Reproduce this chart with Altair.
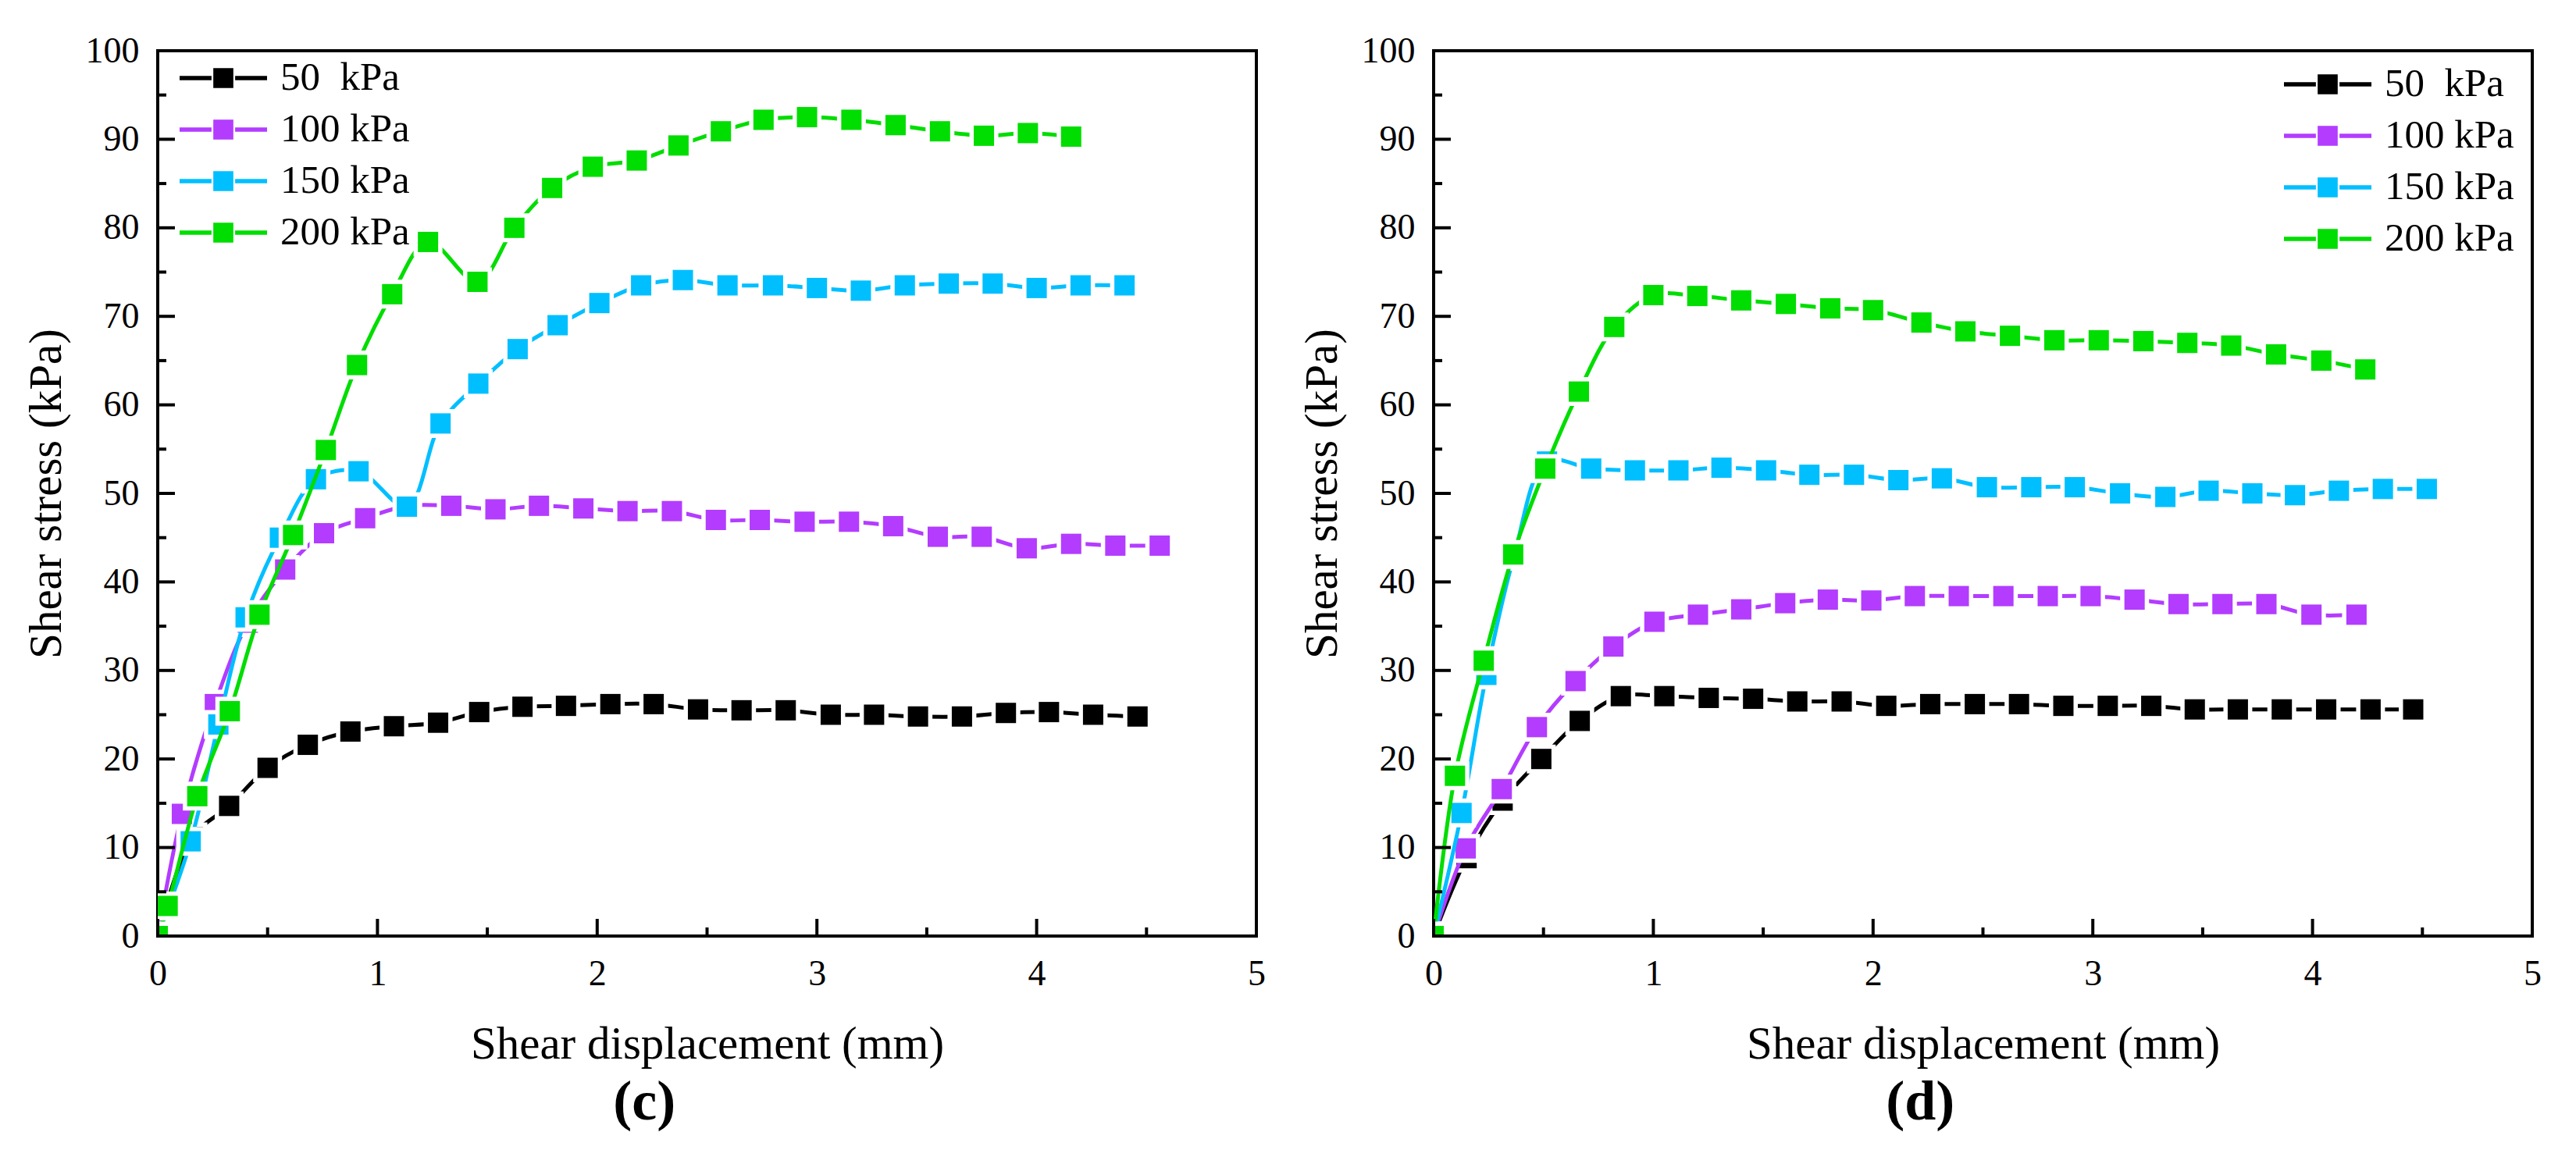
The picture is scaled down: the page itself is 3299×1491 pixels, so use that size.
import altair as alt
import pandas as pd

# ---------------- data ----------------
SERIES = ["\u00a050\u00a0\u00a0kPa", "100 kPa", "150 kPa", "200 kPa"]
COLORS = ["#000000", "#B33CFF", "#00BFFF", "#00DD00"]

# panel (c)
c50_x = [0, 0.16, 0.325, 0.50, 0.683, 0.877, 1.075, 1.276, 1.463, 1.66, 1.858, 2.06, 2.257, 2.459, 2.657, 2.858, 3.063, 3.26, 3.46, 3.66, 3.86, 4.056, 4.257, 4.459]
c50_y = [0, 11.2, 14.7, 19.0, 21.6, 23.1, 23.7, 24.1, 25.3, 25.9, 26.0, 26.2, 26.2, 25.6, 25.5, 25.5, 25.0, 25.0, 24.8, 24.8, 25.2, 25.3, 25.0, 24.8]
c100_x = [0, 0.11, 0.26, 0.41, 0.58, 0.757, 0.944, 1.138, 1.336, 1.537, 1.735, 1.937, 2.138, 2.34, 2.54, 2.74, 2.944, 3.146, 3.347, 3.55, 3.75, 3.955, 4.157, 4.358, 4.56]
c100_y = [0, 13.8, 26.2, 35.4, 41.4, 45.5, 47.2, 48.6, 48.6, 48.2, 48.6, 48.3, 48.0, 48.0, 47.0, 47.0, 46.8, 46.8, 46.3, 45.1, 45.1, 43.8, 44.3, 44.1, 44.1]
c150_x = [0, 0.15, 0.276, 0.40, 0.556, 0.72, 0.914, 1.134, 1.287, 1.459, 1.638, 1.82, 2.01, 2.2, 2.39, 2.593, 2.8, 3.0, 3.2, 3.4, 3.6, 3.8, 4.0, 4.2, 4.4]
c150_y = [0, 10.7, 23.9, 36.0, 45.0, 51.6, 52.5, 48.5, 57.9, 62.4, 66.3, 69.0, 71.5, 73.5, 74.1, 73.5, 73.5, 73.2, 72.9, 73.5, 73.7, 73.7, 73.2, 73.5, 73.5]
c200_x = [0, 0.045, 0.18, 0.328, 0.463, 0.616, 0.765, 0.907, 1.067, 1.23, 1.455, 1.623, 1.795, 1.98, 2.18, 2.37, 2.563, 2.757, 2.955, 3.157, 3.358, 3.56, 3.76, 3.96, 4.157]
c200_y = [0, 3.4, 15.8, 25.4, 36.3, 45.3, 54.9, 64.5, 72.5, 78.4, 73.9, 80.0, 84.5, 86.9, 87.6, 89.3, 90.9, 92.2, 92.5, 92.2, 91.6, 90.9, 90.4, 90.7, 90.3]

# panel (d)
d50_x = [0, 0.15, 0.314, 0.49, 0.665, 0.852, 1.05, 1.252, 1.454, 1.655, 1.857, 2.06, 2.26, 2.463, 2.664, 2.866, 3.068, 3.266, 3.464, 3.66, 3.86, 4.062, 4.264, 4.458]
d50_y = [0, 8.8, 15.3, 20.0, 24.3, 27.1, 27.1, 26.9, 26.8, 26.5, 26.5, 26.0, 26.2, 26.2, 26.2, 26.0, 26.0, 26.0, 25.6, 25.6, 25.6, 25.6, 25.6, 25.6]
d100_x = [0, 0.146, 0.31, 0.47, 0.646, 0.818, 1.005, 1.203, 1.4, 1.6, 1.794, 1.992, 2.19, 2.39, 2.593, 2.795, 2.99, 3.19, 3.39, 3.59, 3.79, 3.995, 4.2]
d100_y = [0, 9.9, 16.6, 23.6, 28.8, 32.7, 35.5, 36.3, 36.9, 37.6, 38.0, 37.9, 38.4, 38.4, 38.4, 38.4, 38.4, 38.0, 37.5, 37.5, 37.5, 36.3, 36.3]
d150_x = [0, 0.127, 0.24, 0.366, 0.516, 0.717, 0.916, 1.114, 1.31, 1.513, 1.71, 1.913, 2.115, 2.313, 2.518, 2.72, 2.918, 3.124, 3.33, 3.527, 3.726, 3.92, 4.12, 4.32, 4.52]
d150_y = [0, 13.9, 29.5, 42.9, 53.6, 52.8, 52.6, 52.6, 52.9, 52.6, 52.1, 52.1, 51.5, 51.7, 50.7, 50.7, 50.7, 50.0, 49.6, 50.3, 50.0, 49.8, 50.3, 50.5, 50.5]
d200_x = [0, 0.097, 0.228, 0.362, 0.508, 0.661, 0.822, 1.0, 1.2, 1.4, 1.603, 1.805, 2.0, 2.22, 2.42, 2.623, 2.825, 3.027, 3.23, 3.43, 3.63, 3.834, 4.04, 4.24]
d200_y = [0, 18.1, 31.1, 43.1, 52.8, 61.5, 68.8, 72.4, 72.3, 71.8, 71.4, 70.9, 70.7, 69.3, 68.3, 67.8, 67.3, 67.3, 67.2, 67.0, 66.7, 65.7, 65.0, 64.0]

X_MAJOR = [0, 1, 2, 3, 4, 5]
X_MINOR = [0.5, 1.5, 2.5, 3.5, 4.5]
Y_MAJOR = [0, 10, 20, 30, 40, 50, 60, 70, 80, 90, 100]
Y_MINOR = [5, 15, 25, 35, 45, 55, 65, 75, 85, 95]

X_TITLE = "Shear displacement (mm)"
Y_TITLE = "Shear stress (kPa)"

# ---------------- styling ----------------
FONT = "Liberation Serif"
W, H = 1407, 1134
LW = 5
LEG_LW = 5.5
SQ = 676      # 26 px square
HALO = 1369   # 37 px white halo -> gaps in the line around markers
MAJ, MIN = 22, 11

# legend glyph: line - gap - square - gap - line (unit box -1..1, 112 px wide)
LEGEND_PATH = "M-1,0H-0.27M0.27,0H1M-0.18,-0.18H0.18V0.18H-0.18Z"


def panel(xs_list, ys_list, caption, leg_x, leg_y):
    rows = []
    for name, xs, ys in zip(SERIES, xs_list, ys_list):
        for i, (xv, yv) in enumerate(zip(xs, ys)):
            rows.append({"series": name, "x": xv, "y": yv, "order": i})
    df = pd.DataFrame(rows)

    xscale = alt.Scale(domain=[0, 5], nice=False, zero=False)
    yscale = alt.Scale(domain=[0, 100], nice=False, zero=False)
    xaxis = alt.Axis(values=X_MAJOR, ticks=False, domain=False, grid=False,
                     labelFont=FONT, labelFontSize=46, labelPadding=26,
                     labelColor="black", labelFlush=False,
                     title=X_TITLE, titleFont=FONT, titleFontSize=59,
                     titleFontWeight="normal", titleColor="black", titlePadding=38)
    yaxis = alt.Axis(values=Y_MAJOR, ticks=False, domain=False, grid=False,
                     labelFont=FONT, labelFontSize=46, labelPadding=24,
                     labelColor="black", labelFlush=False,
                     title=Y_TITLE, titleFont=FONT, titleFontSize=59,
                     titleFontWeight="normal", titleColor="black", titlePadding=20)

    def X(f="x"):
        return alt.X(f"{f}:Q", scale=xscale, axis=xaxis)

    def Y(f="y"):
        return alt.Y(f"{f}:Q", scale=yscale, axis=yaxis)

    cscale = alt.Scale(domain=SERIES, range=COLORS)
    legend = alt.Legend(title=None, orient="none", legendX=leg_x, legendY=leg_y,
                        symbolType=LEGEND_PATH, symbolSize=12544,
                        symbolStrokeWidth=LEG_LW, labelFont=FONT, labelFontSize=51,
                        labelColor="black", labelOffset=14, rowPadding=14,
                        clipHeight=52, labelLimit=0,
                        padding=0, symbolOpacity=1)

    base = alt.Chart(df)
    layers = [
        base.mark_point(shape="square", filled=True, size=SQ, opacity=1,
                        clip=True, strokeWidth=LEG_LW).encode(
            x=X(), y=Y(),
            fill=alt.Fill("series:N", scale=cscale, legend=legend, sort=SERIES),
            stroke=alt.Stroke("series:N", scale=cscale, legend=legend, sort=SERIES),
        )
    ]
    for name, col in zip(SERIES, COLORS):
        s = base.transform_filter(alt.datum.series == name)
        layers.append(s.mark_line(color=col, strokeWidth=LW, interpolate="catmull-rom",
                                  clip=True, strokeCap="round").encode(
            x=X(), y=Y(), order="order:Q"))
        layers.append(s.mark_square(color="white", size=HALO, opacity=1, clip=True).encode(
            x=X(), y=Y()))
        layers.append(s.mark_square(color=col, size=SQ, opacity=1, clip=True).encode(
            x=X(), y=Y()))

    # inward ticks on the left and bottom axes
    ymaj = alt.Chart(pd.DataFrame({"v": Y_MAJOR})).mark_rule(color="black", strokeWidth=4).encode(
        y=Y("v"), x=alt.value(0), x2=alt.value(MAJ))
    ymin = alt.Chart(pd.DataFrame({"v": Y_MINOR})).mark_rule(color="black", strokeWidth=4).encode(
        y=Y("v"), x=alt.value(0), x2=alt.value(MIN))
    xmaj = alt.Chart(pd.DataFrame({"v": X_MAJOR})).mark_rule(color="black", strokeWidth=4).encode(
        x=X("v"), y=alt.value(H), y2=alt.value(H - MAJ))
    xmin = alt.Chart(pd.DataFrame({"v": X_MINOR})).mark_rule(color="black", strokeWidth=4).encode(
        x=X("v"), y=alt.value(H), y2=alt.value(H - MIN))
    layers += [ymaj, ymin, xmaj, xmin]

    return alt.layer(*layers).properties(
        width=W, height=H,
        title=alt.TitleParams(text=caption, orient="bottom", anchor="middle", frame="bounds",
                              font=FONT, fontSize=72, fontWeight="bold", color="black",
                              offset=10),
    )


left = panel([c50_x, c100_x, c150_x, c200_x], [c50_y, c100_y, c150_y, c200_y], "(c)", 25, 9)
right = panel([d50_x, d100_x, d150_x, d200_x], [d50_y, d100_y, d150_y, d200_y], "(d)", 1086, 17)

chart = alt.hconcat(left, right, spacing=39).resolve_scale(
    fill="independent", stroke="independent"
).resolve_legend(
    fill="independent", stroke="independent"
).properties(
    padding={"left": 20, "top": 32, "right": 5, "bottom": 5},
    background="white",
).configure_view(stroke="black", strokeWidth=4).configure_legend(
    symbolOpacity=1, symbolStrokeWidth=LEG_LW
)

chart.save("out.html", embed_options={"renderer": "svg", "actions": False})
